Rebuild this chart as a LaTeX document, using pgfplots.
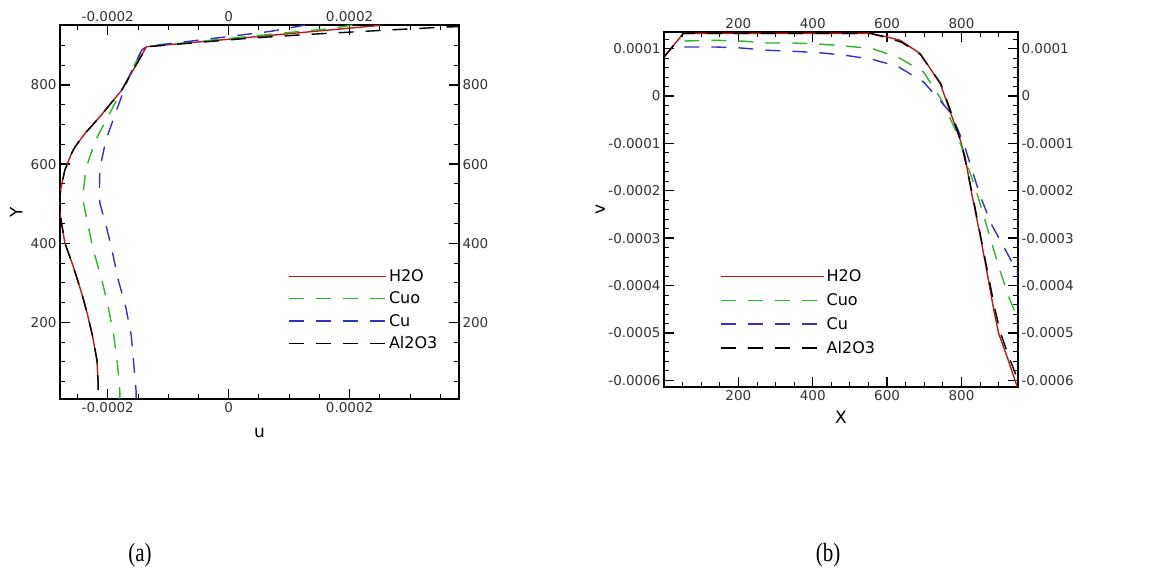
\documentclass[border=0pt]{standalone}
\usepackage{fontspec}
\setmainfont{DejaVu Sans}
\newfontfamily\capfont{Liberation Serif}
\usepackage{graphicx}
\usepackage{pgfplots}
\pgfplotsset{compat=1.18}

\definecolor{h2o}{RGB}{190,25,25}
\definecolor{cuo}{RGB}{40,185,40}
\definecolor{cu}{RGB}{50,50,200}

\pgfplotsset{
  panel/.style={
    scale only axis,
    scaled x ticks=false, scaled y ticks=false,
    axis line style={line width=1.4bp},
    major tick style={line width=1.4bp, black},
    minor tick style={line width=0.9bp, black},
    major tick length=10bp, minor tick length=5bp,
    tick label style={font=\fontsize{13.5bp}{16bp}\selectfont, text=black!80},
    legend style={draw=none, fill=none, font=\fontsize{16bp}{19bp}\selectfont,
                  row sep=5bp},
    legend cell align=left,
  },
  overlay/.style={
    scale only axis,
    scaled x ticks=false, scaled y ticks=false,
    axis line style={draw=none},
    major tick length=0pt, minor tick length=0pt,
    tick label style={font=\fontsize{13.5bp}{16bp}\selectfont, text=black!80},
    xticklabel pos=upper, yticklabel pos=right,
  },
  dsh/.style={line width=1.4bp, dash pattern=on 15bp off 12bp},
  sld/.style={line width=1.4bp},
}

\begin{document}
\begin{tikzpicture}
\useasboundingbox (0,0) rectangle (1166bp,576bp);

% (a) u against Y
\begin{axis}[panel,
  at={(60bp,177bp)}, anchor=south west, width=399bp, height=374bp,
  xmin=-0.000279, xmax=0.000381, ymin=6, ymax=952,
  xtick={-0.0002,0,0.0002}, xticklabels={-0.0002,0,0.0002},
  minor xtick={-0.00025,-0.00015,-0.0001,-0.00005,0.00005,0.0001,0.00015,0.00025,0.0003,0.00035},
  ytick={200,400,600,800}, yticklabels={200,400,600,800},
  minor ytick={50,100,150,250,300,350,450,500,550,650,700,750,850,900},
  xlabel={u}, ylabel={Y},
  xlabel style={at={(axis description cs:0.5,-0.091)}, anchor=center, font=\fontsize{17bp}{20bp}\selectfont},
  ylabel style={at={(axis description cs:-0.11,0.5)}, anchor=center, font=\fontsize{17bp}{20bp}\selectfont},
  legend style={at={(axis description cs:0.565,0.357)}, anchor=north west},
  legend image code/.code={\draw[#1] (0bp,0bp) -- (85bp,0bp); \path (0bp,0bp) -- (97bp,0bp);},
]
\addplot[h2o, sld] coordinates {
  (0.000250,951) (-0.000136,897) (-0.000177,787) (-0.000213,720) (-0.0002375,678)
  (-0.000254,644) (-0.000260,627) (-0.000271,585) (-0.000277,543) (-0.000281,500)
  (-0.000279,475) (-0.000271,401) (-0.000257,341) (-0.000243,273) (-0.000234,223)
  (-0.000225,164) (-0.000218,105) (-0.000216,50)};
\addplot[cuo, dsh] coordinates {
  (0.000205,952) (0.00017,943) (0.0001,933) (0,918) (-0.000136,897) (-0.000144,888)
  (-0.000166,818) (-0.000195,734) (-0.000220,661) (-0.000236,590) (-0.000241,522)
  (-0.000240,501) (-0.000233,448) (-0.000224,383) (-0.000210,309) (-0.000199,237)
  (-0.000190,165) (-0.000184,95) (-0.000180,24) (-0.000180,6)};
\addplot[cu, dsh] coordinates {
  (0.000127,952) (0.00007,936) (-0.00002,919) (-0.000136,898) (-0.000144,888)
  (-0.000166,818) (-0.000186,734) (-0.000203,661) (-0.000213,590) (-0.000214,522)
  (-0.000213,501) (-0.000203,446) (-0.000193,383) (-0.000183,309) (-0.000170,237)
  (-0.000161,165) (-0.000157,95) (-0.000153,24) (-0.000153,6)};
\addplot[black, dsh] coordinates {
  (0.000385,948) (0.00036,947) (0.000261,939) (0.000129,928) (0.00003,918) (-0.000136,897)
  (-0.000177,787) (-0.000213,720) (-0.0002375,678) (-0.000254,644) (-0.000260,627)
  (-0.000271,585) (-0.000277,543) (-0.000281,500) (-0.000279,475) (-0.000271,401)
  (-0.000257,341) (-0.000243,273) (-0.000234,223) (-0.000225,164) (-0.000218,105)
  (-0.000216,50) (-0.000216,6)};
\legend{H2O,Cuo,Cu,Al2O3}
\end{axis}
\begin{axis}[overlay,
  at={(60bp,177bp)}, anchor=south west, width=399bp, height=374bp,
  xmin=-0.000279, xmax=0.000381, ymin=6, ymax=952,
  xtick={-0.0002,0,0.0002}, xticklabels={-0.0002,0,0.0002},
  ytick={200,400,600,800}, yticklabels={200,400,600,800},
]
\end{axis}

% (b) X against v
\begin{axis}[panel,
  at={(664bp,189bp)}, anchor=south west, width=354bp, height=355bp,
  xmin=0, xmax=952, ymin=-0.000614, ymax=0.000135,
  xtick={200,400,600,800}, xticklabels={200,400,600,800},
  minor xtick={50,100,150,250,300,350,450,500,550,650,700,750,850,900},
  ytick={-0.0006,-0.0005,-0.0004,-0.0003,-0.0002,-0.0001,0,0.0001},
  yticklabels={-0.0006,-0.0005,-0.0004,-0.0003,-0.0002,-0.0001,0,0.0001},
  minor ytick={-0.00058,-0.00056,...,0.00013},
  xlabel={X}, ylabel={v},
  xlabel style={at={(axis description cs:0.5,-0.085)}, anchor=center, font=\fontsize{17bp}{20bp}\selectfont},
  ylabel style={at={(axis description cs:-0.18,0.5)}, anchor=center, font=\fontsize{17bp}{20bp}\selectfont},
  legend style={at={(axis description cs:0.15,0.342)}, anchor=north west, row sep=6.5bp},
  legend image code/.code={\draw[#1] (0bp,0bp) -- (90bp,0bp); \path (0bp,0bp) -- (103bp,0bp);},
]
\addplot[h2o, sld] coordinates {
  (0,0.0000823) (52,0.000132) (555,0.000132) (600,0.0001245) (635,0.0001175)
  (689,0.0000894) (743,0.0000262) (765,-0.0000232) (797,-0.0000935) (810,-0.000129)
  (824,-0.000192) (831,-0.00022) (851,-0.0002975) (871,-0.000382) (887,-0.000452)
  (900,-0.000501) (923,-0.000551) (950,-0.000614)};
\addplot[cuo, dsh] coordinates {
  (55,0.000116) (137,0.0001175) (206,0.000116) (278,0.0001118) (345,0.0001118)
  (415,0.0001097) (487,0.0001055) (559,0.0001) (628,0.0000823) (698,0.0000506)
  (747,-0.000009) (788,-0.0000794) (815,-0.000143) (842,-0.000206) (870,-0.00028)
  (900,-0.00036) (930,-0.00043) (952,-0.00047)};
\addplot[cu, dsh] coordinates {
  (55,0.0001034) (137,0.0001034) (206,0.0001013) (278,0.0000964) (345,0.0000943)
  (415,0.0000915) (487,0.0000859) (559,0.0000774) (628,0.0000627) (698,0.0000296)
  (765,-0.00003) (790,-0.00007) (810,-0.00011) (830,-0.00016) (850,-0.00021)
  (880,-0.00027) (915,-0.00032) (952,-0.000375)};
\addplot[black, dsh] coordinates {
  (0,0.000082) (52,0.000132) (555,0.000132) (600,0.000123) (640,0.000113)
  (690,0.000087) (745,0.000025) (770,-0.00003) (800,-0.0001) (830,-0.00021)
  (850,-0.00029) (870,-0.00037) (890,-0.00045) (905,-0.0005) (925,-0.000545)
  (952,-0.0006)};
\legend{H2O,Cuo,Cu,Al2O3}
\end{axis}
\begin{axis}[overlay,
  at={(664bp,189bp)}, anchor=south west, width=354bp, height=355bp,
  xmin=0, xmax=952, ymin=-0.000614, ymax=0.000135,
  xtick={200,400,600,800}, xticklabels={200,400,600,800},
  ytick={-0.0006,-0.0005,-0.0004,-0.0003,-0.0002,-0.0001,0,0.0001},
  yticklabels={-0.0006,-0.0005,-0.0004,-0.0003,-0.0002,-0.0001,0,0.0001},
]
\end{axis}

\node[font=\capfont\fontsize{21bp}{25bp}\selectfont] at (140bp,21bp) {\scalebox{1}[1.25]{(a)}};
\node[font=\capfont\fontsize{21bp}{25bp}\selectfont] at (828bp,21bp) {\scalebox{1}[1.25]{(b)}};
\end{tikzpicture}
\end{document}
